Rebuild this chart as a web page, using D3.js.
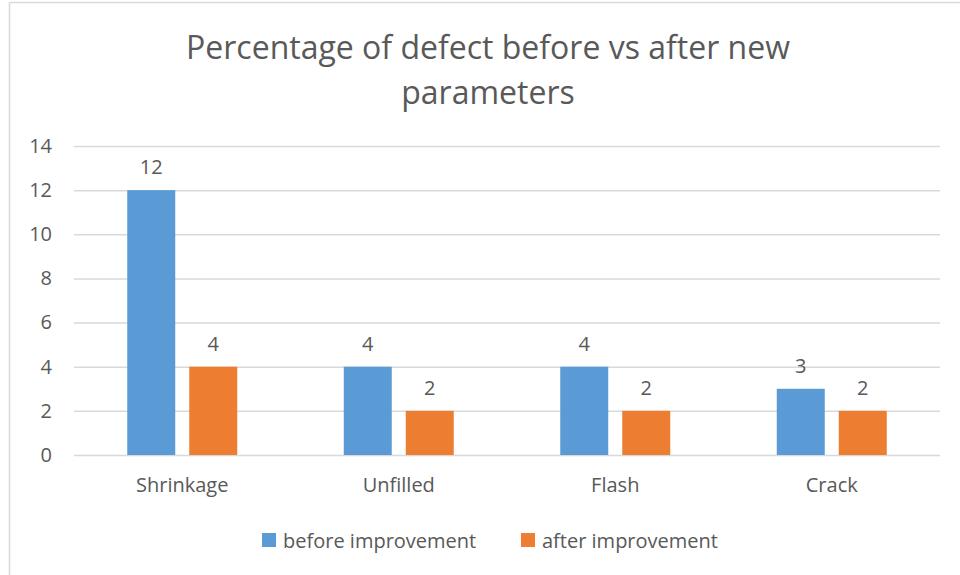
<!DOCTYPE html>
<html>
<head>
<meta charset="utf-8">
<script src="https://cdn.jsdelivr.net/npm/d3@7"></script>
<style>
  body { margin: 0; background: #fff; }
  text { font-family: "Open Sans", "Noto Sans", sans-serif; fill: #595959; }
</style>
</head>
<body>
<div id="chart"></div>
<script>
// data
categories = ["Shrinkage", "Unfilled", "Flash", "Crack"];
seriesNames = ["before improvement", "after improvement"];
beforeVals = [12, 4, 4, 3];
afterVals = [4, 2, 2, 2];
yTicks = [0, 2, 4, 6, 8, 10, 12, 14];

width = 960;
height = 575;
margin = ({top: 146, right: 20, bottom: 120, left: 74});
plotW = 940 - margin.left;
plotH = 455 - margin.top;
colors = ["#5B9BD5", "#ED7D31"];

const rows = categories.map((c, i) => ({cat: c, vals: [beforeVals[i], afterVals[i]]}));

const svg = d3.select("#chart")
    .append("svg")
    .attr("width", width)
    .attr("height", height);

// chart border (only left + top visible)
svg.append("line").attr("x1", 9.5).attr("x2", 9.5).attr("y1", 2.5).attr("y2", height)
    .attr("stroke", "#d9d9d9").attr("stroke-width", 1.5);
svg.append("line").attr("x1", 9.5).attr("x2", width).attr("y1", 2.5).attr("y2", 2.5)
    .attr("stroke", "#d9d9d9").attr("stroke-width", 1.5);

// title
const title = svg.append("text")
    .attr("text-anchor", "middle")
    .attr("font-size", "32px");
title.append("tspan").attr("x", 488).attr("y", 59).text("Percentage of defect before vs after new");
title.append("tspan").attr("x", 488).attr("y", 104).text("parameters");

const g = svg.append("g")
    .attr("transform", `translate(${margin.left}, ${margin.top})`);

var x = d3.scaleBand()
    .domain(categories)
    .range([0, plotW])
    .paddingInner(0)
    .paddingOuter(0);

var y = d3.scaleLinear()
    .domain([0, 14])
    .range([plotH, 0]);

// bars inside a band: 48px wide, 14px gap
const barW = 48, gap = 14;
var x1 = d3.scaleOrdinal()
    .domain([0, 1])
    .range([x.bandwidth() / 2 - gap / 2 - barW, x.bandwidth() / 2 + gap / 2]);

// gridlines
g.append("g")
    .call(d3.axisLeft(y).tickValues(yTicks).tickSize(-plotW).tickFormat(""))
    .call(s => s.select(".domain").remove())
    .selectAll("line")
    .attr("stroke", "#d9d9d9")
    .attr("stroke-width", 1.5);

// y tick labels
g.append("g")
    .call(d3.axisLeft(y).tickValues(yTicks).tickSize(0).tickPadding(22))
    .call(s => s.select(".domain").remove())
    .selectAll("text")
    .attr("font-size", "20px")
    .attr("fill", "#595959");

const groups = g.selectAll(".grp")
    .data(rows)
    .join("g")
    .attr("class", "grp")
    .attr("transform", d => `translate(${x(d.cat)},0)`);

groups.selectAll("rect")
    .data(d => d.vals.map((v, i) => ({v, i})))
    .join("rect")
    .attr("x", d => x1(d.i))
    .attr("y", d => y(d.v))
    .attr("width", barW)
    .attr("height", d => plotH - y(d.v))
    .attr("fill", d => colors[d.i]);

groups.selectAll(".lbl")
    .data(d => d.vals.map((v, i) => ({v, i})))
    .join("text")
    .attr("class", "lbl")
    .attr("x", d => x1(d.i) + barW / 2)
    .attr("y", d => y(d.v) - 16)
    .attr("text-anchor", "middle")
    .attr("font-size", "20px")
    .attr("fill", "#404040")
    .text(d => d.v);

// x axis labels
g.append("g")
    .attr("transform", `translate(0,${plotH})`)
    .call(d3.axisBottom(x).tickSize(0).tickPadding(23))
    .call(s => s.select(".domain").remove())
    .selectAll("text")
    .attr("font-size", "20px")
    .attr("fill", "#595959");

// legend
const legendX = [262, 521];
const leg = svg.selectAll(".leg")
    .data(seriesNames)
    .join("g")
    .attr("class", "leg")
    .attr("transform", (d, i) => `translate(${legendX[i]}, 533)`);
leg.append("rect")
    .attr("width", 14).attr("height", 14)
    .attr("fill", (d, i) => colors[i]);
leg.append("text")
    .attr("x", 21).attr("y", 14.5)
    .attr("font-size", "20px")
    .text(d => d);
</script>
</body>
</html>
